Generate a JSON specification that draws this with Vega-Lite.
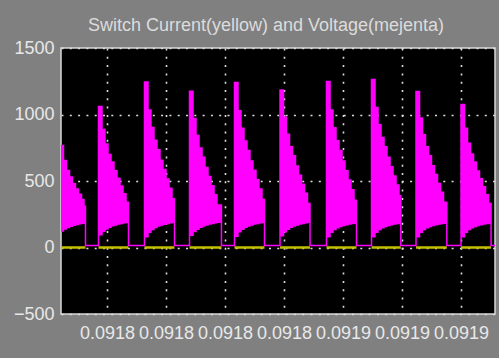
{
  "$schema": "https://vega.github.io/schema/vega-lite/v6.json",
  "width": 434,
  "height": 266,
  "autosize": {"type": "none"},
  "padding": {"left": 61, "top": 48, "right": 4, "bottom": 44},
  "background": "#808080",
  "title": {
    "text": "Switch Current(yellow) and Voltage(mejenta)",
    "color": "#dcdcdc",
    "font": "Liberation Sans",
    "fontSize": 18,
    "fontWeight": "normal",
    "anchor": "middle",
    "baseline": "alphabetic",
    "offset": 20,
    "dx": -12,
    "dy": 30
  },
  "config": {
    "view": {"stroke": "#d8d8d8", "strokeWidth": 1.5, "fill": "#000000"},
    "axis": {
      "domain": false,
      "ticks": false,
      "grid": true,
      "gridColor": "#dddddd",
      "gridDash": [2, 6.3],
      "gridWidth": 1.6,
      "labelColor": "#e8e8e8",
      "labelFont": "Liberation Sans",
      "labelFontSize": 18,
      "title": null
    }
  },
  "datasets": {
    "voltage": [
      {"t":91764.41,"top":767,"bot":125},
      {"t":91765.25,"top":654,"bot":140},
      {"t":91766.27,"top":579,"bot":150},
      {"t":91767.29,"top":530,"bot":160},
      {"t":91768.30,"top":480,"bot":167},
      {"t":91769.32,"top":440,"bot":173},
      {"t":91770.34,"top":400,"bot":178},
      {"t":91771.36,"top":360,"bot":183},
      {"t":91772.20,"top":310,"bot":188},
      {"t":91772.71,"top":15,"bot":15},
      {"t":91777.12,"top":1060,"bot":95},
      {"t":91778.31,"top":887,"bot":122},
      {"t":91779.32,"top":779,"bot":140},
      {"t":91780.34,"top":700,"bot":153},
      {"t":91781.36,"top":642,"bot":163},
      {"t":91782.37,"top":578,"bot":170},
      {"t":91783.39,"top":520,"bot":176},
      {"t":91784.41,"top":462,"bot":181},
      {"t":91785.43,"top":405,"bot":186},
      {"t":91786.44,"top":340,"bot":190},
      {"t":91787.29,"top":15,"bot":15},
      {"t":91792.71,"top":1245,"bot":80},
      {"t":91793.90,"top":1034,"bot":115},
      {"t":91794.91,"top":902,"bot":136},
      {"t":91795.93,"top":806,"bot":151},
      {"t":91796.95,"top":735,"bot":161},
      {"t":91797.96,"top":656,"bot":169},
      {"t":91798.98,"top":586,"bot":175},
      {"t":91800.00,"top":515,"bot":181},
      {"t":91801.02,"top":445,"bot":186},
      {"t":91802.03,"top":366,"bot":190},
      {"t":91802.88,"top":15,"bot":15},
      {"t":91807.97,"top":1175,"bot":92},
      {"t":91809.16,"top":970,"bot":120},
      {"t":91810.17,"top":842,"bot":138},
      {"t":91811.19,"top":748,"bot":152},
      {"t":91812.21,"top":679,"bot":162},
      {"t":91813.22,"top":602,"bot":170},
      {"t":91814.24,"top":534,"bot":176},
      {"t":91815.26,"top":465,"bot":181},
      {"t":91816.28,"top":397,"bot":186},
      {"t":91817.29,"top":320,"bot":190},
      {"t":91818.80,"top":15,"bot":15},
      {"t":91823.22,"top":1240,"bot":85},
      {"t":91824.41,"top":1029,"bot":118},
      {"t":91825.42,"top":897,"bot":138},
      {"t":91826.44,"top":800,"bot":152},
      {"t":91827.46,"top":730,"bot":162},
      {"t":91828.47,"top":650,"bot":170},
      {"t":91829.49,"top":580,"bot":176},
      {"t":91830.51,"top":510,"bot":181},
      {"t":91831.53,"top":439,"bot":186},
      {"t":91832.54,"top":360,"bot":190},
      {"t":91833.39,"top":15,"bot":15},
      {"t":91838.65,"top":1185,"bot":88},
      {"t":91839.84,"top":980,"bot":118},
      {"t":91840.85,"top":852,"bot":138},
      {"t":91841.87,"top":758,"bot":152},
      {"t":91842.89,"top":689,"bot":162},
      {"t":91843.90,"top":612,"bot":170},
      {"t":91844.92,"top":544,"bot":176},
      {"t":91845.94,"top":475,"bot":181},
      {"t":91846.96,"top":407,"bot":186},
      {"t":91847.97,"top":330,"bot":190},
      {"t":91848.82,"top":15,"bot":15},
      {"t":91854.41,"top":1248,"bot":81},
      {"t":91855.60,"top":1034,"bot":115},
      {"t":91856.61,"top":900,"bot":135},
      {"t":91857.63,"top":802,"bot":149},
      {"t":91858.65,"top":730,"bot":158},
      {"t":91859.66,"top":650,"bot":165},
      {"t":91860.68,"top":578,"bot":171},
      {"t":91861.70,"top":507,"bot":176},
      {"t":91862.72,"top":435,"bot":180},
      {"t":91863.73,"top":355,"bot":183},
      {"t":91864.58,"top":15,"bot":15},
      {"t":91869.67,"top":1263,"bot":81},
      {"t":91870.86,"top":1053,"bot":115},
      {"t":91871.87,"top":923,"bot":135},
      {"t":91872.89,"top":827,"bot":149},
      {"t":91873.91,"top":757,"bot":158},
      {"t":91874.92,"top":678,"bot":165},
      {"t":91875.94,"top":608,"bot":171},
      {"t":91876.96,"top":538,"bot":176},
      {"t":91877.98,"top":469,"bot":180},
      {"t":91878.99,"top":390,"bot":183},
      {"t":91879.60,"top":15,"bot":15},
      {"t":91884.75,"top":1173,"bot":81},
      {"t":91885.94,"top":973,"bot":115},
      {"t":91886.95,"top":848,"bot":135},
      {"t":91887.97,"top":757,"bot":149},
      {"t":91888.99,"top":690,"bot":158},
      {"t":91890.00,"top":615,"bot":165},
      {"t":91891.02,"top":548,"bot":171},
      {"t":91892.04,"top":482,"bot":176},
      {"t":91893.06,"top":415,"bot":180},
      {"t":91894.07,"top":340,"bot":183},
      {"t":91895.20,"top":15,"bot":15},
      {"t":91900.01,"top":1075,"bot":81},
      {"t":91901.20,"top":896,"bot":115},
      {"t":91902.21,"top":784,"bot":135},
      {"t":91903.23,"top":703,"bot":149},
      {"t":91904.25,"top":643,"bot":158},
      {"t":91905.26,"top":576,"bot":165},
      {"t":91906.28,"top":516,"bot":171},
      {"t":91907.30,"top":457,"bot":176},
      {"t":91908.32,"top":397,"bot":180},
      {"t":91909.33,"top":330,"bot":183},
      {"t":91910.20,"top":15,"bot":15},
      {"t":91911.53,"top":15,"bot":15}
    ],
    "current": [
      {"t0":91764.41,"t1":91772.71,"i":0},
      {"t0":91777.12,"t1":91787.29,"i":0},
      {"t0":91792.71,"t1":91802.88,"i":0},
      {"t0":91807.97,"t1":91818.80,"i":0},
      {"t0":91823.22,"t1":91833.39,"i":0},
      {"t0":91838.65,"t1":91848.82,"i":0},
      {"t0":91854.41,"t1":91864.58,"i":0},
      {"t0":91869.67,"t1":91879.60,"i":0},
      {"t0":91884.75,"t1":91895.20,"i":0},
      {"t0":91900.01,"t1":91910.20,"i":0}
    ]
  },
  "layer": [
    {
      "data": {"name": "current"},
      "mark": {"type": "rule", "color": "#c4c000", "strokeWidth": 2.5, "clip": true},
      "encoding": {
        "x": {
          "field": "t0",
          "type": "quantitative",
          "scale": {"domain": [91764.41, 91911.53], "nice": false, "zero": false},
          "axis": {
            "values": [91780, 91800, 91820, 91840, 91860, 91880, 91900],
            "labelExpr": "format(datum.value / 1000000, '.4f')",
            "labelPadding": 10
          }
        },
        "x2": {"field": "t1"},
        "y": {
          "field": "i",
          "type": "quantitative",
          "scale": {"domain": [-500, 1500], "nice": false, "zero": false},
          "axis": {"values": [-500, 0, 500, 1000, 1500], "format": "d", "labelPadding": 7}
        }
      }
    },
    {
      "data": {"name": "voltage"},
      "mark": {"type": "area", "interpolate": "step-after", "color": "#ff00ff", "stroke": "#ff00ff", "strokeWidth": 1.5, "clip": true},
      "encoding": {
        "x": {"field": "t", "type": "quantitative"},
        "y": {"field": "top", "type": "quantitative"},
        "y2": {"field": "bot"}
      }
    }
  ]
}
